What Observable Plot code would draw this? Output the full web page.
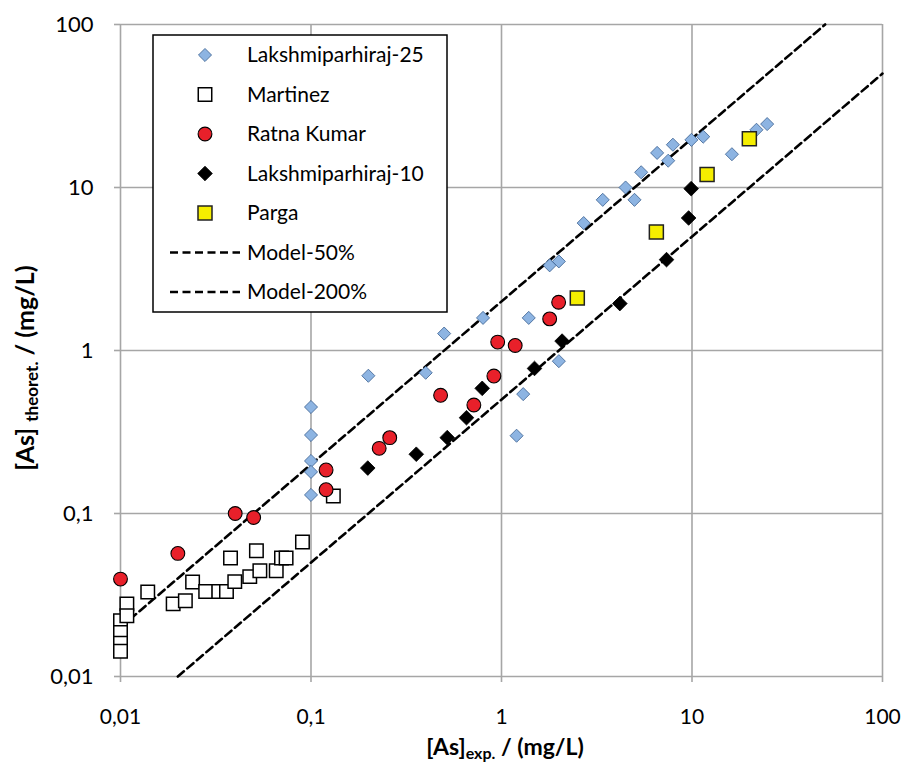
<!DOCTYPE html>
<html>
<head>
<meta charset="utf-8">
<script src="https://cdn.jsdelivr.net/npm/d3@7"></script>
<script src="https://cdn.jsdelivr.net/npm/@observablehq/plot@0.6"></script>
<style>
  html, body { margin: 0; padding: 0; background: white; }
  #chart { position: relative; width: 906px; height: 765px; }
</style>
</head>
<body>
<div id="chart"></div>
<script>
// ---- Data ----
const tickValues = [0.01, 0.1, 1, 10, 100];
const tickLabels = ["0,01", "0,1", "1", "10", "100"];

const seriesNames = ["Lakshmiparhiraj-25", "Martinez", "Ratna Kumar", "Lakshmiparhiraj-10", "Parga", "Model-50%", "Model-200%"];

const lak25X = [0.1, 0.1, 0.1, 0.1, 0.1, 0.2, 0.4, 0.5, 0.8, 1.2, 1.3, 1.39, 2.0, 1.79, 2.0, 2.7, 3.4, 4.48, 4.99, 5.41, 6.56, 7.5, 7.94, 9.93, 11.45, 16.2, 21.8, 24.8];
const lak25Y = [0.45, 0.303, 0.21, 0.18, 0.13, 0.70, 0.73, 1.27, 1.585, 0.30, 0.54, 1.585, 0.86, 3.33, 3.52, 6.05, 8.4, 10.0, 8.4, 12.4, 16.3, 14.6, 18.3, 19.6, 20.5, 16.0, 22.6, 24.5];

const martX = [0.01, 0.01, 0.01, 0.01, 0.0108, 0.0108, 0.0139, 0.0189, 0.0219, 0.0239, 0.028, 0.0328, 0.036, 0.0398, 0.0378, 0.0477, 0.0539, 0.0517, 0.0657, 0.07, 0.074, 0.0902, 0.131];
const martY = [0.022, 0.0186, 0.016, 0.0143, 0.0279, 0.0236, 0.033, 0.0279, 0.0292, 0.038, 0.0332, 0.0332, 0.0332, 0.0382, 0.0534, 0.041, 0.0446, 0.059, 0.0446, 0.0534, 0.0534, 0.0668, 0.128];

const ratnaX = [0.01, 0.02, 0.04, 0.05, 0.12, 0.12, 0.228, 0.259, 0.479, 0.716, 0.912, 0.955, 1.18, 1.79, 1.995];
const ratnaY = [0.0396, 0.0569, 0.1, 0.0945, 0.185, 0.14, 0.251, 0.292, 0.531, 0.463, 0.697, 1.126, 1.074, 1.563, 1.977];

const lak10X = [0.1986, 0.357, 0.519, 0.655, 0.792, 1.49, 2.08, 4.18, 7.35, 9.6, 9.9];
const lak10Y = [0.19, 0.231, 0.292, 0.387, 0.586, 0.776, 1.142, 1.94, 3.61, 6.5, 9.84];

const pargaX = [2.5, 6.5, 12, 20];
const pargaY = [2.1, 5.33, 12, 19.9];

const model50X = [0.01, 50];
const model50Y = [0.02, 100];
const model200X = [0.02, 100];
const model200Y = [0.01, 50];

// ---- Build tables ----
const zip = (xs, ys) => xs.map((x, i) => ({x, y: ys[i]}));
const lak25 = zip(lak25X, lak25Y);
const mart = zip(martX, martY);
const ratna = zip(ratnaX, ratnaY);
const lak10 = zip(lak10X, lak10Y);
const parga = zip(pargaX, pargaY);
const m50 = zip(model50X, model50Y);
const m200 = zip(model200X, model200Y);

const FONT = "Lato, 'Open Sans', sans-serif";
const gridColor = "#a6a6a6";
const fmt = d => tickLabels[tickValues.indexOf(d)];

const styles = {
  lak25: {symbol: "diamond2", r: 5.9, fill: "#8db4e2", stroke: "#3a5f8f", strokeWidth: 0.8},
  mart: {symbol: "square", r: 7.6, fill: "white", stroke: "black", strokeWidth: 1.5},
  ratna: {symbol: "circle", r: 6.9, fill: "#e8202a", stroke: "black", strokeWidth: 1.1},
  lak10: {symbol: "diamond2", r: 6.6, fill: "black", stroke: "black", strokeWidth: 0.8},
  parga: {symbol: "square", r: 7.9, fill: "#f5ee00", stroke: "#222", strokeWidth: 1.5}
};

const chart = Plot.plot({
  width: 906,
  height: 765,
  marginLeft: 120,
  marginRight: 24,
  marginTop: 24,
  marginBottom: 89,
  style: {fontFamily: FONT, background: "white", color: "black"},
  x: {type: "log", domain: [0.01, 100]},
  y: {type: "log", domain: [0.01, 100]},
  marks: [
    Plot.gridX(tickValues, {stroke: gridColor, strokeOpacity: 1, strokeWidth: 1.6}),
    Plot.gridY(tickValues, {stroke: gridColor, strokeOpacity: 1, strokeWidth: 1.6}),
    Plot.axisX(tickValues, {tickFormat: fmt, tickSize: 6, tickPadding: 27, fontSize: 21, stroke: gridColor, strokeWidth: 1.6, fill: "black", label: null}),
    Plot.axisY(tickValues, {tickFormat: fmt, tickSize: 6, tickPadding: 21, fontSize: 22, stroke: gridColor, strokeWidth: 1.6, fill: "black", label: null}),
    Plot.line(m50, {x: "x", y: "y", stroke: "black", strokeWidth: 2.6, strokeDasharray: "8,4.5"}),
    Plot.line(m200, {x: "x", y: "y", stroke: "black", strokeWidth: 2.6, strokeDasharray: "8,4.5"}),
    Plot.dot(lak25, {x: "x", y: "y", ...styles.lak25}),
    Plot.dot(mart, {x: "x", y: "y", ...styles.mart}),
    Plot.dot(ratna, {x: "x", y: "y", ...styles.ratna}),
    Plot.dot(lak10, {x: "x", y: "y", ...styles.lak10}),
    Plot.dot(parga, {x: "x", y: "y", ...styles.parga})
  ]
});

document.getElementById("chart").appendChild(chart);

const svg = d3.select(chart);

// ---- Axis titles ----
const xt = svg.append("text")
  .attr("transform", "translate(505,755)")
  .attr("text-anchor", "middle")
  .attr("font-family", FONT)
  .attr("font-weight", "bold")
  .attr("font-size", 23)
  .attr("fill", "black");
xt.append("tspan").text("[As]");
xt.append("tspan").attr("font-size", 16).attr("dy", 4).text("exp.");
xt.append("tspan").attr("dy", -4).text(" / (mg/L)");

const yt = svg.append("text")
  .attr("transform", "translate(34,368) rotate(-90)")
  .attr("text-anchor", "middle")
  .attr("font-family", FONT)
  .attr("font-weight", "bold")
  .attr("font-size", 25)
  .attr("fill", "black");
yt.append("tspan").text("[As] ");
yt.append("tspan").attr("font-size", 17).attr("dy", 4).text("theoret.");
yt.append("tspan").attr("dy", -4).text(" / (mg/L)");

// ---- Legend ----
const lg = svg.append("g").attr("text-anchor", "start");
lg.append("rect")
  .attr("x", 153).attr("y", 35).attr("width", 294).attr("height", 277)
  .attr("fill", "white").attr("stroke", "black").attr("stroke-width", 1.5);

const symMap = {circle: d3.symbolCircle, square: d3.symbolSquare, diamond2: d3.symbolDiamond2};
const legendStyles = [styles.lak25, styles.mart, styles.ratna, styles.lak10, styles.parga];
seriesNames.forEach((name, i) => {
  const cy = 55 + i * 39.5;
  if (i < 5) {
    const s = legendStyles[i];
    lg.append("path")
      .attr("transform", `translate(205,${cy})`)
      .attr("d", d3.symbol(symMap[s.symbol], Math.PI * s.r * s.r)())
      .attr("fill", s.fill).attr("stroke", s.stroke).attr("stroke-width", s.strokeWidth);
  } else {
    lg.append("line")
      .attr("x1", 170).attr("x2", 240).attr("y1", cy).attr("y2", cy)
      .attr("stroke", "black").attr("stroke-width", 2.6).attr("stroke-dasharray", "8,4.5");
  }
  lg.append("text")
    .attr("x", 247).attr("y", cy)
    .attr("dy", "0.35em")
    .attr("text-anchor", "start")
    .attr("font-family", FONT)
    .attr("font-size", 21)
    .attr("fill", "black")
    .text(name);
});
</script>
</body>
</html>
